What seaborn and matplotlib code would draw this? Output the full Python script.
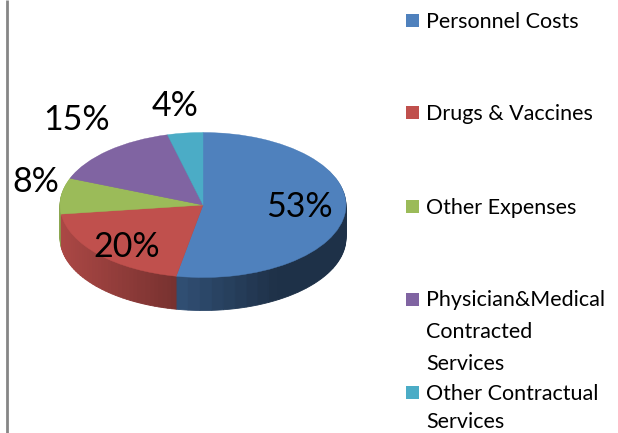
import numpy as np
import matplotlib.pyplot as plt
from matplotlib.patches import Rectangle
from matplotlib.colors import to_rgb
import seaborn as sns

categories = ['Personnel Costs', 'Drugs & Vaccines', 'Other Expenses',
              'Physician&Medical\nContracted\nServices', 'Other Contractual\nServices']
shares = [53, 20, 8, 15, 4]
colors = ['#4F81BD', '#C0504D', '#9BBB59', '#8064A2', '#4BACC6']

sns.set_theme(style='white')
plt.rcParams['font.family'] = ['Lato', 'DejaVu Sans']

W, H = 618, 433
fig = plt.figure(figsize=(W / 100, H / 100), dpi=100, facecolor='white')

# pie axes, squashed in y so that the circle looks tilted
cx, cy = 203, 205
rx, ry = 143, 72.5
squash = ry / rx
ax = fig.add_axes([0, 0, 1, 1])
pie_center = (cx, (H - cy) / squash)

# side wall: stack of pies going down, each slice cut in small bits for the shading
depth = 33
bits = 40
wall_vals = np.repeat(np.array(shares) / bits, bits)
wall_cols = []
angle = 90.0
for share, col in zip(shares, colors):
    for b in range(bits):
        mid = angle - (share / bits) * 3.6 / 2
        angle -= (share / bits) * 3.6
        shade = max(0.38, 0.62 - 0.34 * (np.cos(np.radians(mid)) + 0.19))
        wall_cols.append(tuple(c * shade for c in to_rgb(col)))

for d in range(depth, 0, -1):
    wedges, _ = ax.pie(wall_vals, colors=wall_cols, startangle=90, counterclock=False, radius=rx,
                       center=(pie_center[0], pie_center[1] - d / squash), frame=True,
                       wedgeprops={'linewidth': 0.6})
    for w in wedges:
        w.set_edgecolor(w.get_facecolor())

wedges, _ = ax.pie(shares, colors=colors, startangle=90, counterclock=False, radius=rx,
                   center=pie_center, frame=True, wedgeprops={'linewidth': 0.3})
for w in wedges:
    w.set_edgecolor(w.get_facecolor())
ax.set_aspect('auto')
ax.set_xlim(0, W)
ax.set_ylim(0, H / squash)
ax.axis('off')

# overlay in image pixels for the texts
ov = fig.add_axes([0, 0, 1, 1], facecolor='none')
ov.set_xlim(0, W)
ov.set_ylim(H, 0)
ov.axis('off')

ov.plot([7, 7], [0, H], color='#868686', lw=2, solid_capstyle='butt')

label_pos = [(299, 207), (127, 247), (36, 182), (77, 120), (175, 106)]
for share, (x, y) in zip(shares, label_pos):
    ov.text(x, y, f'{share}%', fontsize=24.5, color='black', ha='center', va='center')

legend_y = [20, 112, 206, 299, 392]
line_gaps = [1.72, 1.72, 1.72, 1.72, 1.5]  # last one tighter so it stays inside the image
for name, col, y, gap in zip(categories, colors, legend_y, line_gaps):
    ov.add_patch(Rectangle((406, y - 6.5), 13, 13, facecolor=col, edgecolor='none'))
    ov.text(426, y - 8.5, name, fontsize=15.5, color='black', ha='left', va='top',
            linespacing=gap)

fig.savefig('out.png', dpi=100)
